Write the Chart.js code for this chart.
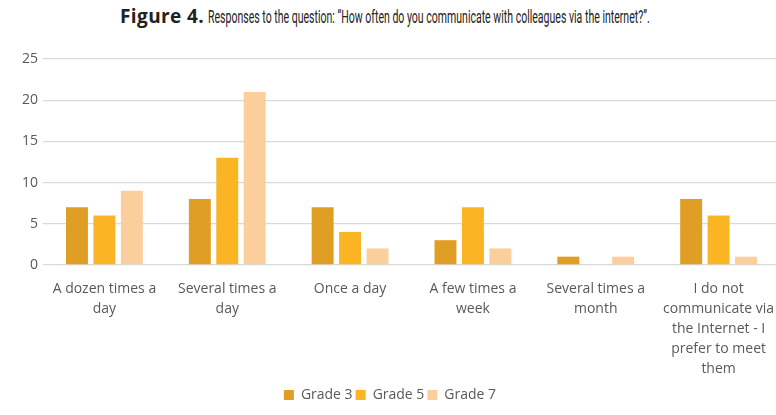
<!DOCTYPE html>
<html>
<head>
<meta charset="utf-8">
<script src="https://cdn.jsdelivr.net/npm/chart.js@4"></script>
<style>
  html, body { margin: 0; padding: 0; background: #fff; }
  body { width: 776px; height: 415px; overflow: hidden; position: relative; }
  #title { position: absolute; top: 3px; left: 120px; white-space: nowrap; color: #222; }
  #title b { font-family: "Open Sans", sans-serif; font-size: 19px; font-weight: 700; letter-spacing: 0.4px; }
  #title span {
    display: inline-block; font-family: "Roboto", sans-serif; font-size: 18px;
    transform: scaleX(0.585); transform-origin: left center; margin-left: 4px;
  }
  #wrap { position: absolute; left: 0; top: 0; width: 790px; height: 415px; }
</style>
</head>
<body>
<div id="title"><b>Figure 4.</b><span>Responses to the question: “How often do you communicate with colleagues via the internet?”.</span></div>
<div id="wrap"><canvas id="chart"></canvas></div>
<script>
const categories = [
  ['A dozen times a', 'day'],
  ['Several times a', 'day'],
  ['Once a day'],
  ['A few times a', 'week'],
  ['Several times a', 'month'],
  ['I do not', 'communicate via', 'the Internet - I', 'prefer to meet', 'them']
];
const grade3 = [7, 8, 7, 3, 1, 8];
const grade5 = [6, 13, 4, 7, 0, 6];
const grade7 = [9, 21, 2, 2, 1, 1];
const yTicks = [0, 5, 10, 15, 20, 25];

const font = { family: '"Open Sans", "Noto Sans", sans-serif', size: 14 };
const textColor = '#595959';

new Chart(document.getElementById('chart'), {
  type: 'bar',
  data: {
    labels: categories,
    datasets: [
      { label: 'Grade 3', data: grade3, backgroundColor: '#E09E24' },
      { label: 'Grade 5', data: grade5, backgroundColor: '#FBB524' },
      { label: 'Grade 7', data: grade7, backgroundColor: '#FBCF9C' }
    ]
  },
  options: {
    responsive: true,
    maintainAspectRatio: false,
    animation: false,
    categoryPercentage: 0.67,
    barPercentage: 0.8,
    layout: { padding: { top: 59, right: 10, bottom: 3, left: 0 } },
    scales: {
      y: {
        min: 0, max: 25,
        afterBuildTicks: s => { s.ticks = yTicks.map(v => ({ value: v })); },
        afterFit: s => { s.width = 43; },
        border: { display: false },
        grid: { color: '#d9d9d9', lineWidth: 1.3, drawTicks: false },
        ticks: { color: textColor, font: font, padding: 5 }
      },
      x: {
        border: { display: false },
        grid: { display: false },
        ticks: {
          color: textColor, font: { ...font, lineHeight: 1.43 },
          maxRotation: 0, autoSkip: false, padding: 6
        }
      }
    },
    plugins: {
      legend: {
        position: 'bottom',
        labels: {
          color: textColor, font: font,
          boxWidth: 10, boxHeight: 10, padding: 3
        }
      },
      tooltip: { enabled: false }
    }
  }
});
</script>
</body>
</html>
